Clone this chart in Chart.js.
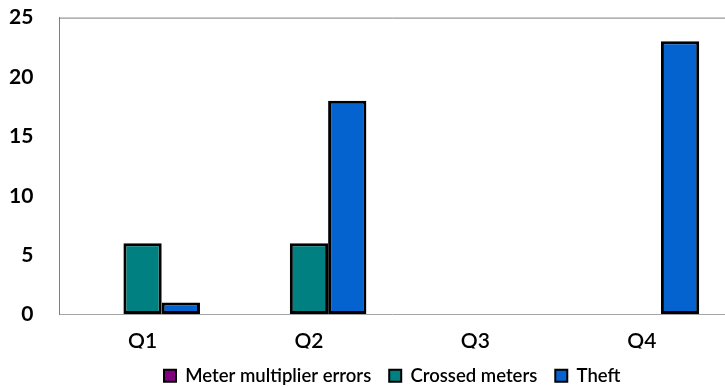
<!DOCTYPE html>
<html>
<head>
<meta charset="utf-8">
<script src="https://cdn.jsdelivr.net/npm/chart.js@4/dist/chart.umd.min.js"></script>
<style>
  html, body { margin: 0; padding: 0; background: #fff; }
  #wrap { width: 725px; height: 387px; }
</style>
</head>
<body>
<div id="wrap"><canvas id="chart"></canvas></div>
<script>
// values
const quarters = ['Q1', 'Q2', 'Q3', 'Q4'];
const meterMultiplierErrors = [0, 0, 0, 0];
const crossedMeters = [6, 6, 0, 0];
const theft = [1, 18, 0, 23];
const yTicks = [0, 5, 10, 15, 20, 25];

// top edge of the plot box
const topBorder = {
    id: 'topBorder',
    afterDraw(chart) {
        const { ctx, chartArea } = chart;
        ctx.save();
        ctx.strokeStyle = '#7f7f7f';
        ctx.lineWidth = 1;
        ctx.beginPath();
        ctx.moveTo(chartArea.left, chartArea.top + 0.5);
        ctx.lineTo(chartArea.right + 5, chartArea.top + 0.5);
        ctx.stroke();
        ctx.restore();
    }
};

// invisible tick marks are used only as spacing between axis and labels
const hiddenGrid = len => ({
    display: true,
    drawOnChartArea: false,
    drawTicks: true,
    tickLength: len,
    tickColor: 'rgba(0,0,0,0)',
    color: 'rgba(0,0,0,0)'
});

new Chart(document.getElementById('chart'), {
    type: 'bar',
    data: {
        labels: quarters,
        datasets: [
            { label: 'Meter multiplier errors', data: meterMultiplierErrors, backgroundColor: '#800080' },
            { label: 'Crossed meters', data: crossedMeters, backgroundColor: '#008080' },
            { label: 'Theft', data: theft, backgroundColor: '#0563cf' }
        ].map(d => Object.assign(d, {
            borderColor: '#000',
            borderWidth: 3,
            borderSkipped: false,
            categoryPercentage: 0.69,
            barPercentage: 1
        }))
    },
    options: {
        responsive: true,
        maintainAspectRatio: false,
        animation: false,
        layout: { padding: { top: 0, right: -2, left: 4, bottom: -8 } },
        plugins: {
            tooltip: { enabled: false },
            legend: {
                position: 'bottom',
                fullSize: false,
                labels: {
                    color: '#000',
                    font: { family: 'Lato', size: 18.5, weight: '600' },
                    boxWidth: 12,
                    boxHeight: 12,
                    padding: 18,
                    generateLabels(chart) {
                        return chart.data.datasets.map((ds, i) => ({
                            text: ds.label,
                            fillStyle: ds.backgroundColor,
                            strokeStyle: '#000',
                            lineWidth: 2,
                            datasetIndex: i
                        }));
                    }
                }
            }
        },
        scales: {
            x: {
                grid: hiddenGrid(20),
                border: { color: '#a6a6a6', width: 1 },
                ticks: {
                    color: '#000',
                    padding: 0,
                    font: { family: 'Lato', size: 21, weight: '600', lineHeight: 0.667 }
                }
            },
            y: {
                min: 0,
                max: 25,
                afterBuildTicks(axis) { axis.ticks = yTicks.map(v => ({ value: v })); },
                grid: hiddenGrid(21),
                border: { color: '#7f7f7f', width: 1 },
                ticks: {
                    color: '#000',
                    padding: 5,
                    font: { family: 'Lato', size: 21, weight: 'bold' }
                }
            }
        }
    },
    plugins: [topBorder]
});
</script>
</body>
</html>
